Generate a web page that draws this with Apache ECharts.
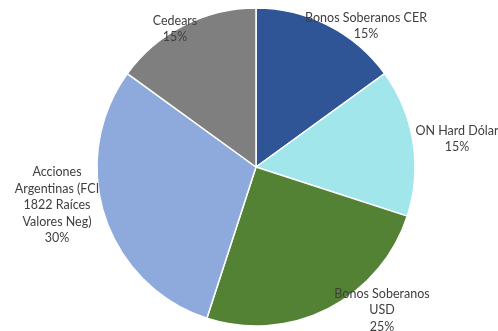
<!DOCTYPE html>
<html>
<head>
<meta charset="utf-8">
<script src="https://cdn.jsdelivr.net/npm/echarts@6/dist/echarts.min.js"></script>
<style>
  html, body { margin: 0; padding: 0; background: #ffffff; }
  #chart { width: 498px; height: 331px; }
</style>
</head>
<body>
<div id="chart"></div>
<script>
// Portfolio allocation by instrument
const categories = [
  'Bonos Soberanos CER',
  'ON Hard Dólar',
  'Bonos Soberanos\nUSD',
  'Acciones\nArgentinas (FCI\n1822 Raíces\nValores Neg)',
  'Cedears'
];
const shares = [15, 15, 25, 30, 15];
const colors = ['#2F5597', '#A0E6EA', '#548235', '#8EA9DB', '#7F7F7F'];

// Label anchor offsets from the pie centre, in px (x right, y down)
const labelOffsets = [
  [110, -141],
  [201, -28],
  [126, 143],
  [-199, 38],
  [-81, -138]
];

const chart = echarts.init(document.getElementById('chart'), null, { renderer: 'canvas' });
const W = 498, H = 331;
const cx = 256, cy = 167;

chart.setOption({
  animation: false,
  backgroundColor: '#ffffff',
  series: [{
    type: 'pie',
    center: [cx, cy],
    radius: 159,
    startAngle: 90,
    clockwise: true,
    avoidLabelOverlap: false,
    itemStyle: { borderColor: '#ffffff', borderWidth: 1.5 },
    label: {
      show: true,
      position: 'outside',
      formatter: p => p.name + '\n' + p.value + '%',
      fontFamily: 'Lato',
      fontSize: 12.5,
      lineHeight: 16.5,
      color: '#404040',
      align: 'center'
    },
    labelLine: { show: false },
    labelLayout: params => {
      const o = labelOffsets[params.dataIndex];
      return {
        x: cx + o[0],
        y: cy + o[1],
        align: 'center',
        verticalAlign: 'middle',
        hideOverlap: false,
        moveOverlap: false
      };
    },
    data: categories.map((name, i) => ({
      name: name,
      value: shares[i],
      itemStyle: { color: colors[i] }
    }))
  }]
});
</script>
</body>
</html>
